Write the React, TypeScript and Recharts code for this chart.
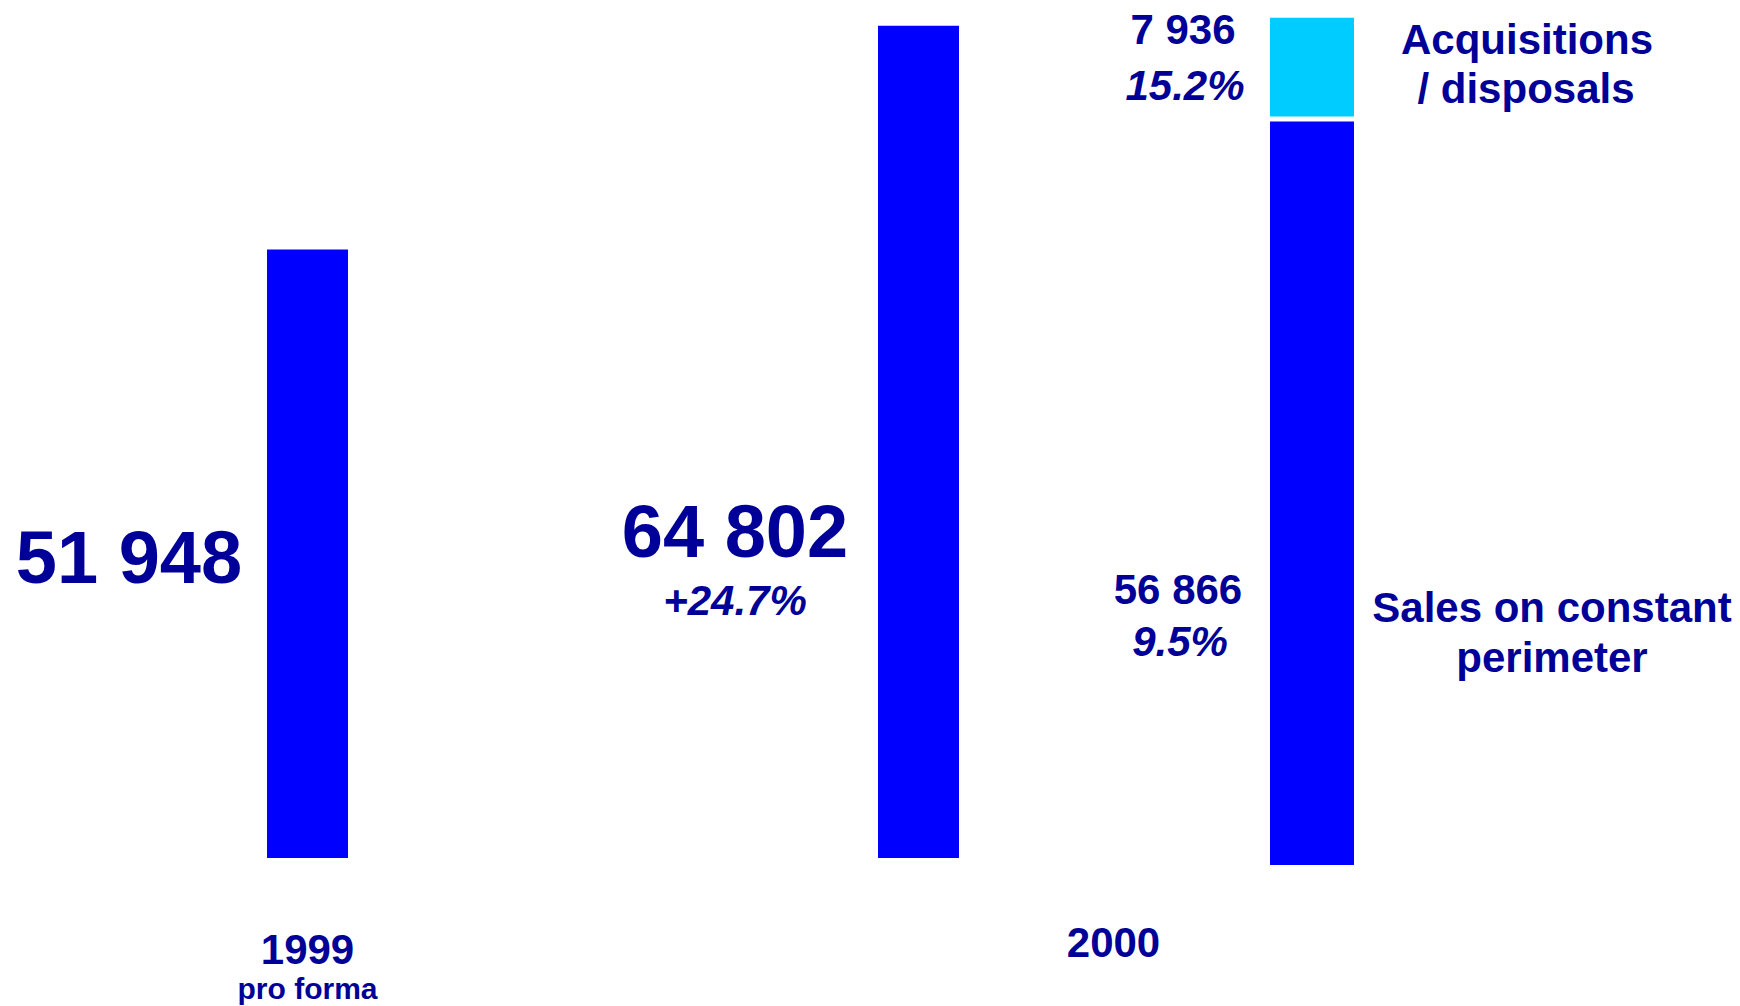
import React from "react";
import { BarChart, Bar, XAxis, YAxis, LabelList, Rectangle } from "recharts";

// ── Data ──────────────────────────────────────────────────
const YEARS = ["1999", "2000"];
const YEAR_NOTES = ["pro forma", ""];
const TOTAL_SALES = [51948, 64802];
const TOTAL_GROWTH = ["", "+24.7%"];

const SPLIT_CATEGORY = ["2000"];
const CONSTANT_PERIMETER = [56866];
const ACQUISITIONS = [7936];
const CONSTANT_SHARE = ["9.5%"];
const ACQUISITIONS_SHARE = ["15.2%"];
const CONSTANT_NAME = ["Sales on constant", "perimeter"];
const ACQUISITIONS_NAME = ["Acquisitions", "/ disposals"];

// ── Styling ───────────────────────────────────────────────
const BAR_BLUE = "#0000FF";
const BAR_CYAN = "#00CCFF";
const TEXT = "#000099";
const FONT = "'Liberation Sans', Arial, sans-serif";

// label offsets relative to each bar (left edge / bottom edge)
const TOTAL_LAYOUT = [
  { dx: -138, dy: -275, subDy: 0 },
  { dx: -143, dy: -301, subDy: -243 },
];
const TICK_LAYOUT = [
  { dx: 0, dy: 106, noteDy: 141 },
  { dx: 195, dy: 99, noteDy: 0 },
];

const fmt = (v: number) => String(v).replace(/\B(?=(\d{3})+(?!\d))/g, " ");

const totalRows = YEARS.map((year, i) => ({ i, year, sales: TOTAL_SALES[i] }));
const splitRows = SPLIT_CATEGORY.map((cat, i) => ({
  i,
  cat,
  constant: CONSTANT_PERIMETER[i],
  acq: ACQUISITIONS[i],
}));

const txt = {
  fontFamily: FONT,
  fontWeight: 700,
  fill: TEXT,
  textAnchor: "middle" as const,
};

function TotalLabel(props: any) {
  const { x, y, height, value } = props;
  const l = TOTAL_LAYOUT[value];
  const bottom = y + height;
  return (
    <g>
      <text {...txt} x={x + l.dx} y={bottom + l.dy} fontSize={74}>
        {fmt(TOTAL_SALES[value])}
      </text>
      {TOTAL_GROWTH[value] && (
        <text {...txt} x={x + l.dx} y={bottom + l.subDy} fontSize={42} fontStyle="italic">
          {TOTAL_GROWTH[value]}
        </text>
      )}
    </g>
  );
}

function YearTick(props: any) {
  const { x, y, payload } = props;
  const i = payload.index;
  const l = TICK_LAYOUT[i];
  return (
    <g>
      <text {...txt} x={x + l.dx} y={y + l.dy} fontSize={42}>
        {YEARS[i]}
      </text>
      {YEAR_NOTES[i] && (
        <text {...txt} x={x + l.dx} y={y + l.noteDy} fontSize={30}>
          {YEAR_NOTES[i]}
        </text>
      )}
    </g>
  );
}

function AcqLabel(props: any) {
  const { x, y, width, value } = props;
  return (
    <g>
      <text {...txt} x={x - 87} y={y + 26} fontSize={42}>
        {fmt(ACQUISITIONS[value])}
      </text>
      <text {...txt} x={x - 85} y={y + 82} fontSize={42} fontStyle="italic">
        {ACQUISITIONS_SHARE[value]}
      </text>
      <text {...txt} x={x + width + 173} y={y + 36} fontSize={42}>
        {ACQUISITIONS_NAME[0]}
      </text>
      <text {...txt} x={x + width + 172} y={y + 85} fontSize={42}>
        {ACQUISITIONS_NAME[1]}
      </text>
    </g>
  );
}

function ConstantLabel(props: any) {
  const { x, y, width, height, value } = props;
  const bottom = y + height;
  return (
    <g>
      <text {...txt} x={x - 92} y={bottom - 261} fontSize={42}>
        {fmt(CONSTANT_PERIMETER[value])}
      </text>
      <text {...txt} x={x - 90} y={bottom - 209} fontSize={42} fontStyle="italic">
        {CONSTANT_SHARE[value]}
      </text>
      <text {...txt} x={x + width + 198} y={bottom - 243} fontSize={42}>
        {CONSTANT_NAME[0]}
      </text>
      <text {...txt} x={x + width + 198} y={bottom - 193} fontSize={42}>
        {CONSTANT_NAME[1]}
      </text>
    </g>
  );
}

// top segment leaves a thin white gap above the blue one
function GapShape(props: any) {
  return <Rectangle {...props} height={Math.max(props.height - 5, 0)} />;
}

export default function App() {
  return (
    <div
      style={{
        position: "absolute",
        left: 0,
        top: 0,
        width: 1740,
        height: 1006,
        background: "#fff",
        overflow: "hidden",
      }}
    >
      {/* ── 1999 vs 2000 totals ─────────────────────────── */}
      <div style={{ position: "absolute", left: 0, top: 0 }}>
        <BarChart
          width={1740}
          height={1006}
          data={totalRows}
          margin={{ top: 5, right: 516, bottom: 0, left: 2 }}
        >
          <XAxis
            dataKey="year"
            height={148}
            axisLine={false}
            tickLine={false}
            tickSize={0}
            tickMargin={0}
            interval={0}
            tick={<YearTick />}
          />
          <YAxis hide domain={[17000, 66000]} allowDataOverflow />
          <Bar dataKey="sales" fill={BAR_BLUE} barSize={81} isAnimationActive={false}>
            <LabelList dataKey="i" content={<TotalLabel />} />
          </Bar>
        </BarChart>
      </div>

      {/* ── 2000 split: constant perimeter + acquisitions ── */}
      <div style={{ position: "absolute", left: 0, top: 0 }}>
        <BarChart
          width={1740}
          height={1006}
          data={splitRows}
          margin={{ top: 2, right: 328, bottom: 141, left: 1212 }}
        >
          <XAxis dataKey="cat" hide />
          <YAxis hide domain={[0, 66000]} />
          <Bar
            dataKey="constant"
            stackId="s"
            fill={BAR_BLUE}
            barSize={84}
            isAnimationActive={false}
          >
            <LabelList dataKey="i" content={<ConstantLabel />} />
          </Bar>
          <Bar
            dataKey="acq"
            stackId="s"
            fill={BAR_CYAN}
            barSize={84}
            shape={<GapShape />}
            isAnimationActive={false}
          >
            <LabelList dataKey="i" content={<AcqLabel />} />
          </Bar>
        </BarChart>
      </div>
    </div>
  );
}
